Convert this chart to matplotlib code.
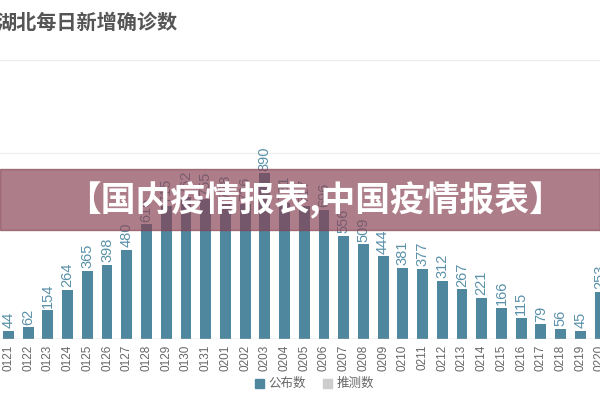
import matplotlib
matplotlib.use('Agg')
import matplotlib.pyplot as plt
from matplotlib.patches import Rectangle

plt.rcParams['font.family'] = ['Noto Sans CJK SC', 'DejaVu Sans']

# data (values under the banner are estimates)
dates = ['0121', '0122', '0123', '0124', '0125', '0126', '0127', '0128', '0129', '0130',
         '0131', '0201', '0202', '0203', '0204', '0205', '0206', '0207', '0208', '0209',
         '0210', '0211', '0212', '0213', '0214', '0215', '0216', '0217', '0218', '0219',
         '0220']
published = [44, 62, 154, 264, 365, 398, 480, 616, 715, 762,
             755, 738, 726, 890, 731, 717, 696, 556, 509, 444,
             381, 377, 312, 267, 221, 166, 115, 79, 56, 45,
             253]
grid_vals = [1000, 1500]

title = '湖北每日新增确诊数'
banner = '【国内疫情报表,中国疫情报表】'
legend_names = ['公布数', '推测数']

bar_color = '#4f879f'
guess_color = '#cccccc'

fig = plt.figure(figsize=(6, 4), dpi=100)
ax = fig.add_axes([0, 61 / 400, 1, 339 / 400])
x = list(range(len(dates)))
ax.bar(x, published, width=0.55, color=bar_color, zorder=2)
for xi, v in zip(x, published):
    ax.annotate(str(v), (xi, v), xytext=(0, 2), textcoords='offset points',
                rotation=90, ha='center', va='bottom', fontsize=10.5,
                color='#5a91a9', family=['Liberation Sans', 'DejaVu Sans'])

ax.set_xlim(-0.43, 29.87)
ax.set_ylim(0, 1823)
for g in grid_vals:
    ax.axhline(g, color='#ececec', lw=0.8, zorder=0)
ax.axhline(0, color='#c8c8c8', lw=1, zorder=3)
for s in ax.spines.values():
    s.set_visible(False)
ax.set_yticks([])
ax.set_xticks(x)
ax.set_xticklabels(dates, rotation=90, fontsize=8.5, color='#666666',
                   family=['Liberation Sans', 'DejaVu Sans'])
ax.tick_params(axis='x', length=0, pad=4)

fig.text(-0.006, 0.945, title, fontsize=14.5, fontweight='bold', color='#555555',
         ha='left', va='center')

# legend drawn as figure patches
fig.patches.append(Rectangle((255 / 600, 1 - 388 / 400), 9 / 600, 9 / 400,
                             transform=fig.transFigure, color=bar_color))
fig.text(268 / 600, 1 - 383 / 400, legend_names[0], fontsize=9, color='#666666',
         va='center', ha='left')
fig.patches.append(Rectangle((323 / 600, 1 - 388 / 400), 9 / 600, 9 / 400,
                             transform=fig.transFigure, color=guess_color))
fig.text(337 / 600, 1 - 383 / 400, legend_names[1], fontsize=9, color='#666666',
         va='center', ha='left')

# semi-transparent banner across the chart
fig.patches.append(Rectangle((0, 1 - 230 / 400), 1, 61 / 400, transform=fig.transFigure,
                             color='#864151', alpha=0.68, zorder=5))
fig.text(315 / 600, 1 - 200 / 400, banner, fontsize=25, fontweight='bold', color='white',
         ha='center', va='center', zorder=6)

fig.savefig('out.png', dpi=100)
